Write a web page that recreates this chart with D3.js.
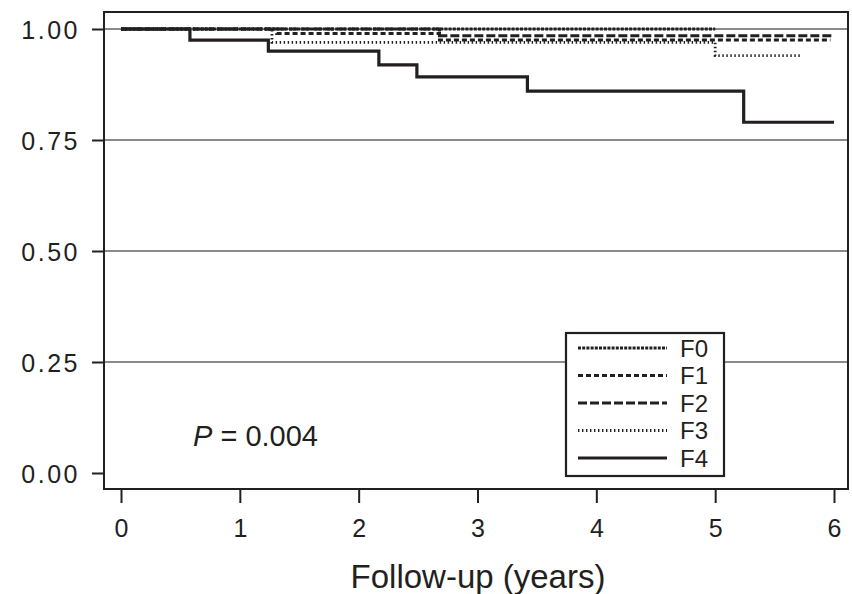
<!DOCTYPE html>
<html>
<head>
<meta charset="utf-8">
<script src="https://cdn.jsdelivr.net/npm/d3@7"></script>
<style>
  body { margin: 0; background: #fff; }
  text { font-family: "Liberation Sans", Arial, sans-serif; fill: #231f20; }
</style>
</head>
<body>
<script>
// Kaplan-Meier style steps
var groups = ["F0", "F1", "F2", "F3", "F4"];

var timeF0 = [0, 5.0],
    survF0 = [1, 1];
var timeF1 = [0, 1.31, 2.68, 5.97],
    survF1 = [1, 0.99, 0.975, 0.975];
var timeF2 = [0, 2.68, 6.0],
    survF2 = [1, 0.985, 0.985];
var timeF3 = [0, 1.27, 5.0, 5.72],
    survF3 = [1, 0.97, 0.94, 0.94];
var timeF4 = [0, 0.58, 1.24, 2.17, 2.49, 3.42, 5.24, 6.0],
    survF4 = [1, 0.975, 0.95, 0.919, 0.892, 0.86, 0.79, 0.79];

var xTicks = [0, 1, 2, 3, 4, 5, 6],
    yTicks = [0, 0.25, 0.5, 0.75, 1],
    gridTicks = [0.25, 0.5, 0.75, 1];

var pLabel = "0.004";

// dash style per group
var dashes = {F0: "3,1.2", F1: "5,3", F2: "9,3", F3: "1.4,2.6", F4: null};
var widths = {F0: 2.8, F1: 3, F2: 3, F3: 2.8, F4: 3.2};

var width = 852, height = 594;
var box = {left: 104, right: 848, top: 12, bottom: 489};

var xScale = d3.scaleLinear().domain([0, 6]).range([121, 834]),
    yScale = d3.scaleLinear().domain([0, 1]).range([473, 29]);

var svg = d3.select("body").append("svg")
            .attr("width", width)
            .attr("height", height);

// gridlines
svg.append("g")
   .selectAll("line")
   .data(gridTicks)
   .enter()
   .append("line")
   .attr("x1", box.left)
   .attr("x2", box.right)
   .attr("y1", d => yScale(d))
   .attr("y2", d => yScale(d))
   .style("stroke", "#8a8a8a")
   .style("stroke-width", 2);

// frame
svg.append("rect")
   .attr("x", box.left)
   .attr("y", box.top)
   .attr("width", box.right - box.left)
   .attr("height", box.bottom - box.top)
   .style("fill", "none")
   .style("stroke", "#231f20")
   .style("stroke-width", 2);

// y axis
var yAxis = d3.axisLeft(yScale)
              .tickValues(yTicks)
              .tickSize(12)
              .tickPadding(12)
              .tickFormat(d3.format(".2f"));

var yg = svg.append("g")
            .attr("transform", "translate(" + box.left + ",0)")
            .call(yAxis);
yg.select(".domain").remove();
yg.selectAll(".tick line").style("stroke", "#231f20").style("stroke-width", 2);
yg.selectAll(".tick text")
  .attr("dy", "0.36em")
  .style("font-size", "25px")
  .style("letter-spacing", "2.5px")
  .style("font-family", "Liberation Sans, Arial, sans-serif")
  .style("fill", "#231f20");

// x axis
var xAxis = d3.axisBottom(xScale)
              .tickValues(xTicks)
              .tickSize(14)
              .tickPadding(16)
              .tickFormat(d3.format("d"));

var xg = svg.append("g")
            .attr("transform", "translate(0," + box.bottom + ")")
            .call(xAxis);
xg.select(".domain").remove();
xg.selectAll(".tick line").style("stroke", "#231f20").style("stroke-width", 2);
xg.selectAll(".tick text")
  .style("font-size", "25px")
  .style("font-family", "Liberation Sans, Arial, sans-serif")
  .style("fill", "#231f20");

svg.append("text")
   .attr("x", 478)
   .attr("y", 588)
   .style("text-anchor", "middle")
   .style("font-size", "33px")
   .text("Follow-up (years)");

// curves
var series = [
  {name: "F0", t: timeF0, s: survF0},
  {name: "F1", t: timeF1, s: survF1},
  {name: "F2", t: timeF2, s: survF2},
  {name: "F3", t: timeF3, s: survF3},
  {name: "F4", t: timeF4, s: survF4}
];

var line = d3.line()
    .x(d => xScale(d[0]))
    .y(d => yScale(d[1]))
    .curve(d3.curveStepAfter);

svg.append("g")
   .selectAll("path")
   .data(series)
   .enter()
   .append("path")
   .attr("d", d => line(d.t.map((t, i) => [t, d.s[i]])))
   .style("fill", "none")
   .style("stroke", "#231f20")
   .style("stroke-width", d => widths[d.name])
   .style("stroke-dasharray", d => dashes[d.name]);

// P value
var pText = svg.append("text")
   .attr("x", 193)
   .attr("y", 446)
   .style("font-size", "29px");
pText.append("tspan").style("font-style", "italic").text("P");
pText.append("tspan").text(" = " + pLabel);

// legend
var legend = svg.append("g").attr("class", "legend");

legend.append("rect")
      .attr("x", 566)
      .attr("y", 333)
      .attr("width", 158)
      .attr("height", 143)
      .style("fill", "#fff")
      .style("stroke", "#231f20")
      .style("stroke-width", 2.2);

var rowY = d3.scalePoint().domain(groups).range([348, 458]);

var rows = legend.selectAll(".row")
                 .data(groups)
                 .enter()
                 .append("g")
                 .attr("class", "row");

rows.append("line")
    .attr("x1", 578)
    .attr("x2", 667)
    .attr("y1", d => rowY(d))
    .attr("y2", d => rowY(d))
    .style("stroke", "#231f20")
    .style("stroke-width", d => widths[d])
    .style("stroke-dasharray", d => dashes[d]);

rows.append("text")
    .attr("x", 680)
    .attr("y", d => rowY(d))
    .attr("dy", "0.36em")
    .style("font-size", "24px")
    .text(d => d);
</script>
</body>
</html>
